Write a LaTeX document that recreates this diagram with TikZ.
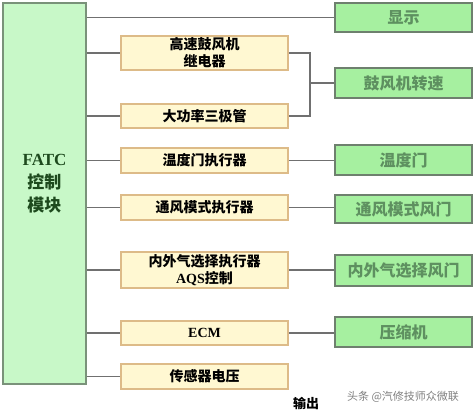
\documentclass[tikz,border=0pt]{standalone}
\usepackage{fontspec}
\setmainfont{Liberation Serif}
\newfontfamily\cjk{Noto Sans CJK SC}
\definecolor{mainfill}{HTML}{C8F8C8}
\definecolor{mainline}{HTML}{7A927A}
\definecolor{gfill}{HTML}{A6F0A0}
\definecolor{gline}{HTML}{6E806E}
\definecolor{gtext}{HTML}{5E9060}
\definecolor{yfill}{HTML}{FFF8D2}
\definecolor{yline}{HTML}{DDBB88}
\definecolor{wire}{HTML}{707070}
\definecolor{maintext}{HTML}{1E4A1E}
\begin{document}
\begin{tikzpicture}[x=1pt,y=-1pt,
  mainbox/.style={draw=mainline,fill=mainfill,line width=1.8pt,minimum width=83pt,minimum height=381pt,inner sep=0pt},
  maintxt/.style={font=\fontsize{17}{23}\selectfont\bfseries\cjk,text=maintext,align=center,inner sep=0pt},
  ybox/.style={draw=yline,fill=yfill,line width=1.8pt,minimum width=167pt,inner sep=0pt,
    font=\fontsize{14}{17}\selectfont\bfseries\cjk,align=center},
  gbox/.style={draw=gline,fill=gfill,line width=1.8pt,minimum width=137pt,inner sep=0pt,
    font=\fontsize{16}{18}\selectfont\bfseries\cjk,text=gtext,align=center},
  wireline/.style={draw=wire,line width=1.6pt}]
\useasboundingbox (0,0) rectangle (476,413);
\node[mainbox] (main) at (44.5,193.5) {};
\node[maintxt] (mtext) at (44.5,184) {{\rmfamily\bfseries FATC}\\控制\\模块};
\node[gbox,minimum height=29pt] (show) at (403.5,17.5) {显示};
\node[ybox,minimum height=34pt] (y1) at (204.5,53) {高速鼓风机\\继电器};
\node[ybox,minimum height=24pt] (y2) at (204.5,116) {大功率三极管};
\node[ybox,minimum height=25pt] (y3) at (204.5,160.5) {温度门执行器};
\node[ybox,minimum height=25pt] (y4) at (204.5,207.5) {通风模式执行器};
\node[ybox,minimum height=36pt] (y5) at (204.5,270) {内外气选择执行器\\{\rmfamily\bfseries AQS}控制};
\node[ybox,minimum height=24pt] (y6) at (204.5,333) {{\rmfamily\bfseries ECM}};
\node[ybox,minimum height=25pt] (y7) at (204.5,376.5) {传感器电压};
\node[gbox,minimum height=30pt] (g2) at (403.5,83) {鼓风机转速};
\node[gbox,minimum height=30pt] (g3) at (403.5,160) {温度门};
\node[gbox,minimum height=28pt] (g4) at (403.5,209) {通风模式风门};
\node[gbox,minimum height=31pt] (g5) at (403.5,270.5) {内外气选择风门};
\node[gbox,minimum height=30pt] (g6) at (403.5,332) {压缩机};
\node[font=\fontsize{13}{15}\selectfont\bfseries\cjk] (out) at (306,403) {输出};
\node[font=\fontsize{11}{13}\selectfont\cjk,text=gray] (wm) at (403,397) {头条 @汽修技师众微联};
\coordinate (jn) at (310,83);
\draw[wireline] (main.east |- show.west) -- (show.west);
\foreach \n in {y1,y2,y3,y4,y5,y6,y7}{\draw[wireline] (main.east |- \n.west) -- (\n.west);}
\draw[wireline] (y1.east) -| (jn) |- (y2.east);
\draw[wireline] (jn) -- (g2.west);
\draw[wireline] (y3.east) -- (g3.west |- y3.east);
\draw[wireline] (y4.east) -- (g4.west |- y4.east);
\draw[wireline] (y5.east) -- (g5.west |- y5.east);
\draw[wireline] (y6.east) -- (g6.west |- y6.east);
\end{tikzpicture}
\end{document}
